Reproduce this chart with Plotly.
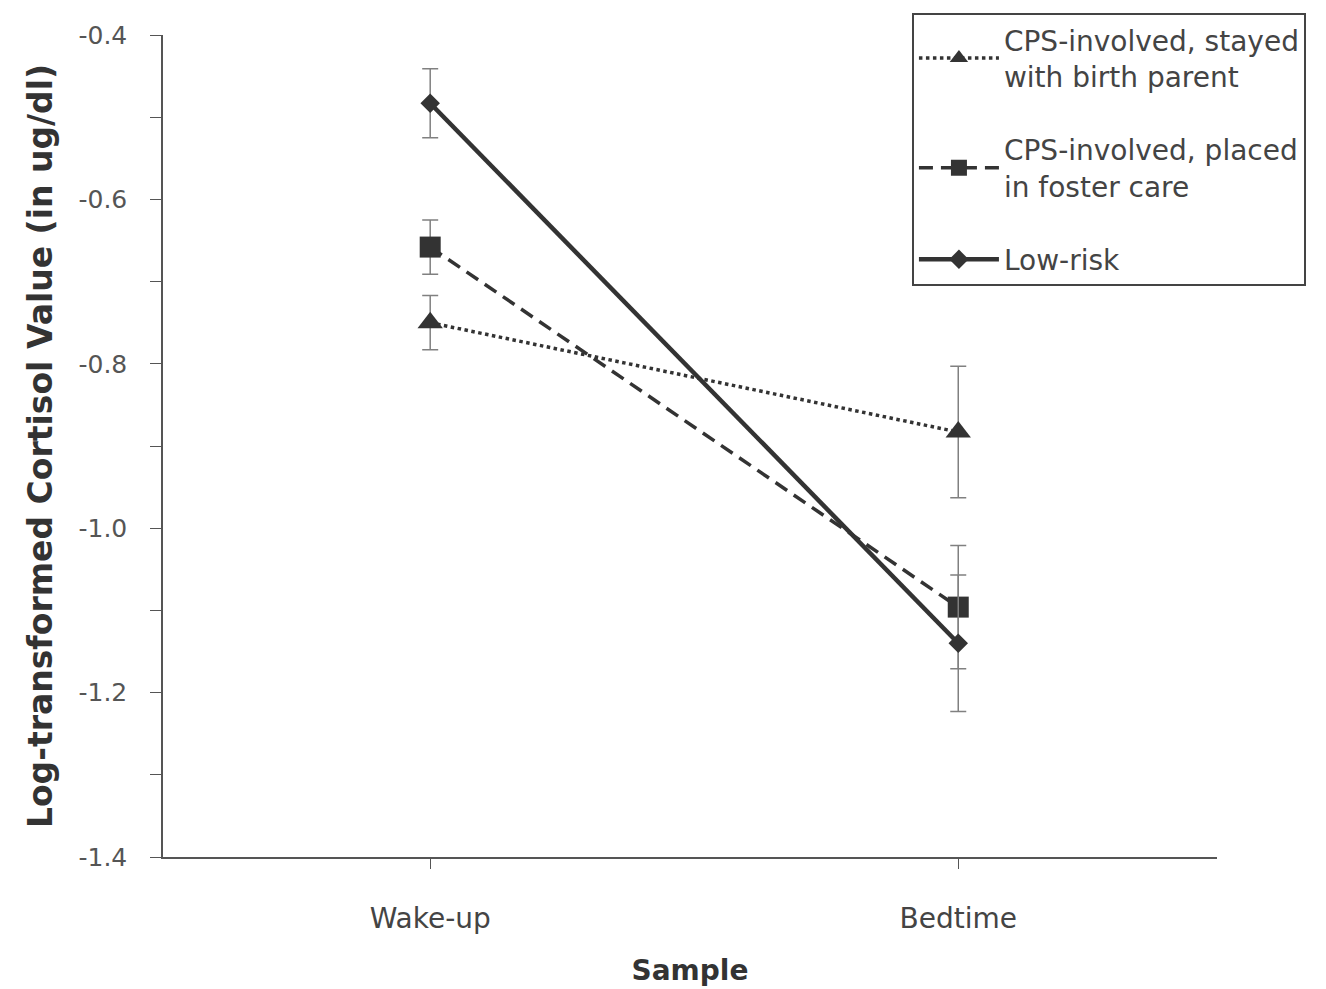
import plotly.graph_objects as go

categories = ["Wake-up", "Bedtime"]
series_names = ["CPS-involved, stayed<br>with birth parent",
                "CPS-involved, placed<br>in foster care",
                "Low-risk"]
stayed = [-0.750, -0.883]
stayed_err = [0.033, 0.080]
foster = [-0.658, -1.096]
foster_err = [0.033, 0.075]
lowrisk = [-0.483, -1.140]
lowrisk_err = [0.042, 0.083]

y_tickvals = [-1.4, -1.3, -1.2, -1.1, -1.0, -0.9, -0.8, -0.7, -0.6, -0.5, -0.4]
y_ticktext = ["-1.4", "", "-1.2", "", "-1.0", "", "-0.8", "", "-0.6", "", "-0.4"]

xpos = list(range(len(categories)))
line_col = "#333333"
err_col = "#808080"
FONT = "DejaVu Sans, Roboto, sans-serif"

fig = go.Figure()
specs = [
    (stayed, stayed_err, series_names[0], "dot", "triangle-up", 22, 3.5),
    (foster, foster_err, series_names[1], "14px,8px", "square", 21, 3.5),
    (lowrisk, lowrisk_err, series_names[2], "solid", "diamond", 15, 4.5),
]
for i, (vals, errs, name, dash, sym, msize, lw) in enumerate(specs):
    fig.add_trace(go.Scatter(
        x=xpos, y=vals, name=name, mode="lines+markers",
        legendgroup="g%d" % i,
        line=dict(color=line_col, width=lw, dash=dash),
        marker=dict(symbol=sym, size=msize, color=line_col),
        error_y=dict(type="data", array=errs, visible=True,
                     color=err_col, thickness=1.5, width=8),
    ))

fig.update_layout(
    width=1326, height=989,
    margin=dict(l=155, r=117, t=27, b=140, autoexpand=False),
    paper_bgcolor="white", plot_bgcolor="white",
    font=dict(family=FONT, color="#444444"),
    showlegend=True,
    legend=dict(
        xref="container", yref="container",
        x=0.6817, y=0.9949, xanchor="left", yanchor="top",
        bordercolor="#444444", borderwidth=2, bgcolor="white",
        font=dict(size=28, color="#444444", family=FONT),
        itemwidth=80, traceorder="grouped", tracegroupgap=34,
    ),
)
fig.update_xaxes(
    range=[-0.506, 1.49], tickvals=xpos, ticktext=categories,
    automargin=False,
    showline=True, linecolor="#555555", linewidth=1.5,
    ticks="outside", ticklen=10, tickcolor="#555555",
    ticklabelstandoff=26,
    showgrid=False, zeroline=False,
    tickfont=dict(size=28, color="#444444", family=FONT),
    title=dict(text="<b>Sample</b>", font=dict(size=28, color="#333333", family=FONT), standoff=26),
)
fig.update_yaxes(
    range=[-1.4, -0.4], tickvals=y_tickvals, ticktext=y_ticktext,
    automargin=False,
    showline=True, linecolor="#555555", linewidth=1.5,
    ticks="outside", ticklen=11, tickcolor="#555555",
    ticklabelstandoff=18,
    showgrid=False, zeroline=False,
    tickfont=dict(size=25, color="#555555", family=FONT),
    title=dict(text="<b>Log-transformed Cortisol Value (in ug/dl)</b>",
               font=dict(size=33, family=FONT, color="#333333"),
               standoff=16),
)

fig.write_html("out.html")
